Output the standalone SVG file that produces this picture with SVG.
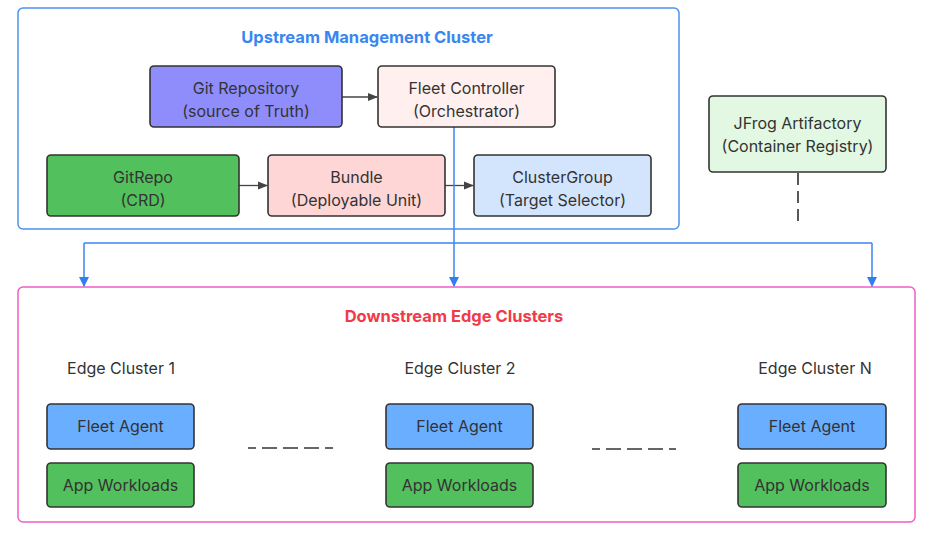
<svg xmlns="http://www.w3.org/2000/svg" width="936" height="534" viewBox="0 0 936 534">
<style>
text{font-family:Inter,"Liberation Sans",Arial,sans-serif;font-size:16px;fill:#333;text-anchor:middle}
.node{stroke:#333;stroke-width:1.6}
.title{font-weight:bold;font-size:16.5px}
.blue{stroke:#3a86f0;stroke-width:1.5;fill:none}
.dark{stroke:#444;stroke-width:1.3;fill:none}
</style>
<defs>
<marker id="ab" markerWidth="10" markerHeight="10" refX="9" refY="5" orient="auto" markerUnits="userSpaceOnUse"><path d="M0,0 L10,5 L0,10 z" fill="#2f7fef"/></marker>
<marker id="ad" markerWidth="10" markerHeight="10" refX="9" refY="5" orient="auto" markerUnits="userSpaceOnUse"><path d="M0,1 L10,5 L0,9 z" fill="#444"/></marker>
</defs>
<rect width="936" height="534" fill="#fff"/>
<g id="upstream">
<rect x="18" y="8" width="661" height="221" rx="5" fill="#fff" stroke="#4a94ee" stroke-width="1.5"/>
<text x="367" y="43" class="title" style="fill:#3a86f0">Upstream Management Cluster</text>
</g>
<g id="downstream">
<rect x="18" y="287" width="897" height="235" rx="5" fill="#fff" stroke="#ee5fc8" stroke-width="1.5"/>
<text x="454" y="322" class="title" style="fill:#f23a48">Downstream Edge Clusters</text>
</g>
<g id="connectors">
<line class="dark" x1="342" y1="97" x2="377" y2="97" marker-end="url(#ad)"/>
<line class="dark" x1="239" y1="185.5" x2="267" y2="185.5" marker-end="url(#ad)"/>
<line class="dark" x1="445" y1="185.5" x2="473" y2="185.5" marker-end="url(#ad)"/>
<polyline class="blue" points="454,127 454,243"/>
<line class="blue" x1="84" y1="243" x2="872" y2="243"/>
<line class="blue" x1="84" y1="243" x2="84" y2="286" marker-end="url(#ab)"/>
<line class="blue" x1="454" y1="243" x2="454" y2="286" marker-end="url(#ab)"/>
<line class="blue" x1="872" y1="243" x2="872" y2="286" marker-end="url(#ab)"/>
<line x1="798" y1="173" x2="798" y2="221" stroke="#222" stroke-width="1.5" stroke-dasharray="12 6"/>
<line x1="248" y1="448" x2="333" y2="448" stroke="#666" stroke-width="2" stroke-dasharray="15 6" stroke-dashoffset="7"/>
<line x1="592" y1="449" x2="676" y2="449" stroke="#666" stroke-width="2" stroke-dasharray="15 6" stroke-dashoffset="7"/>
</g>
<g id="git-repository">
<rect class="node" x="150" y="66" width="192" height="61" rx="4" fill="#8f8dfc"/>
<text x="246" y="94">Git Repository</text>
<text x="246" y="117">(source of Truth)</text>
</g>
<g id="fleet-controller">
<rect class="node" x="378" y="66" width="177" height="61" rx="4" fill="#fff0ef"/>
<text x="466.5" y="94">Fleet Controller</text>
<text x="466.5" y="117">(Orchestrator)</text>
</g>
<g id="gitrepo">
<rect class="node" x="47" y="155" width="192" height="61" rx="4" fill="#52c05c"/>
<text x="143" y="183">GitRepo</text>
<text x="143" y="206">(CRD)</text>
</g>
<g id="bundle">
<rect class="node" x="268" y="155" width="177" height="61" rx="4" fill="#ffd6d6"/>
<text x="356.5" y="183">Bundle</text>
<text x="356.5" y="206">(Deployable Unit)</text>
</g>
<g id="clustergroup">
<rect class="node" x="474" y="155" width="177" height="61" rx="4" fill="#d3e5fd"/>
<text x="562.5" y="183">ClusterGroup</text>
<text x="562.5" y="206">(Target Selector)</text>
</g>
<g id="jfrog">
<rect class="node" x="709" y="96" width="177" height="76" rx="4" fill="#e2f8e2"/>
<text x="797.5" y="129">JFrog Artifactory</text>
<text x="797.5" y="152">(Container Registry)</text>
</g>
<g id="edge-cluster-1">
<text x="121" y="374">Edge Cluster 1</text>
<rect class="node" x="47" y="404" width="147" height="45" rx="4" fill="#6aaeff"/>
<text x="120.5" y="432">Fleet Agent</text>
<rect class="node" x="47" y="463" width="147" height="44" rx="4" fill="#52c05c"/>
<text x="120.5" y="491">App Workloads</text>
</g>
<g id="edge-cluster-2">
<text x="460" y="374">Edge Cluster 2</text>
<rect class="node" x="386" y="404" width="147" height="45" rx="4" fill="#6aaeff"/>
<text x="459.5" y="432">Fleet Agent</text>
<rect class="node" x="386" y="463" width="147" height="44" rx="4" fill="#52c05c"/>
<text x="459.5" y="491">App Workloads</text>
</g>
<g id="edge-cluster-n">
<text x="815" y="374">Edge Cluster N</text>
<rect class="node" x="738" y="404" width="148" height="45" rx="4" fill="#6aaeff"/>
<text x="812" y="432">Fleet Agent</text>
<rect class="node" x="738" y="463" width="148" height="44" rx="4" fill="#52c05c"/>
<text x="812" y="491">App Workloads</text>
</g>
</svg>
